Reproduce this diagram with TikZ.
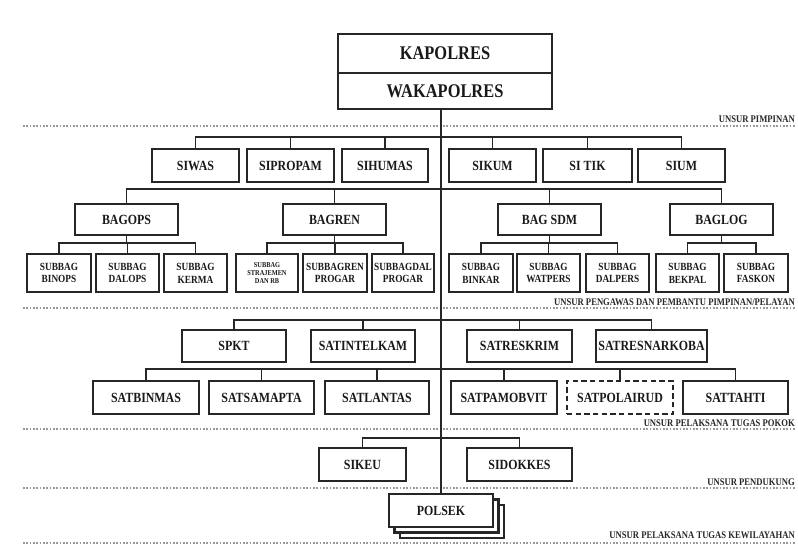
\documentclass[tikz,border=0pt]{standalone}
\usepackage{fontspec}
\newfontfamily\orgfont{Liberation Serif}[FakeStretch=0.85]
\newcommand\obox[7][]{\node[box,#1,minimum width={(#4-#3)*0.75pt},minimum height={(#6-#5)*0.75pt}] (#2) at ({(#3+#4)/2},{(#5+#6)/2}) {#7};}
\tikzset{
  box/.style={draw=black!85, line width=1.7pt, fill=white, inner sep=0pt, align=center,
    text=black!90, font=\orgfont\bfseries\fontsize{10.5}{12}\selectfont},
  bigtxt/.style={font=\orgfont\bfseries\fontsize{14.5}{16}\selectfont},
  subtxt/.style={font=\orgfont\bfseries\fontsize{8.2}{9.6}\selectfont},
  tinytxt/.style={font=\orgfont\bfseries\fontsize{5.6}{6.2}\selectfont},
  dashbox/.style={dash pattern=on 4pt off 2.5pt},
  conn/.style={draw=black!85, line width=1.3pt},
  dotline/.style={draw=black!40, line width=1.5pt, dash pattern=on 1.2pt off 1.3pt},
  lab/.style={anchor=east, inner sep=0pt, text=black!85, font=\orgfont\bfseries\fontsize{7.6}{8}\selectfont}
}
\begin{document}
\begin{tikzpicture}[x=0.75pt,y=-0.75pt]
\useasboundingbox (0,0) rectangle (798,547);
% dotted separators
\draw[dotline] (23,126) -- (795,126);
\draw[dotline] (23,308) -- (795,308);
\draw[dotline] (23,429) -- (795,429);
\draw[dotline] (23,488) -- (795,488);
\draw[dotline] (23,543) -- (795,543);
% section labels
\node[lab] (l1) at (795,119) {UNSUR PIMPINAN};
\node[lab] (l2) at (795,302) {UNSUR PENGAWAS DAN PEMBANTU PIMPINAN/PELAYAN};
\node[lab] (l3) at (795,423) {UNSUR PELAKSANA TUGAS POKOK};
\node[lab] (l4) at (795,482) {UNSUR PENDUKUNG};
\node[lab] (l5) at (795,535) {UNSUR PELAKSANA TUGAS KEWILAYAHAN};
% top
\obox[bigtxt]{kap}{338}{552}{34}{73}{KAPOLRES}
\obox[bigtxt]{wak}{338}{552}{73}{109}{WAKAPOLRES}
% SI row
\obox{siwas}{152}{239}{149}{182}{SIWAS}
\obox{sipropam}{247}{334}{149}{182}{SIPROPAM}
\obox{sihumas}{342}{428}{149}{182}{SIHUMAS}
\obox{sikum}{449}{536}{149}{182}{SIKUM}
\obox{sitik}{543}{632}{149}{182}{SI TIK}
\obox{sium}{638}{725}{149}{182}{SIUM}
% BAG row
\obox{bagops}{75}{178}{204}{235}{BAGOPS}
\obox{bagren}{283}{386}{204}{235}{BAGREN}
\obox{bagsdm}{498}{601}{204}{235}{BAG SDM}
\obox{baglog}{670}{773}{204}{235}{BAGLOG}
% SUBBAG row
\obox[subtxt]{binops}{27}{91}{254}{292}{SUBBAG\\BINOPS}
\obox[subtxt]{dalops}{96}{159}{254}{292}{SUBBAG\\DALOPS}
\obox[subtxt]{kerma}{164}{227}{254}{292}{SUBBAG\\KERMA}
\obox[tinytxt]{straj}{236}{298}{254}{292}{SUBBAG\\STRAJEMEN\\DAN RB}
\obox[subtxt]{renprog}{303}{367}{254}{292}{SUBBAGREN\\PROGAR}
\obox[subtxt]{dalprog}{372}{434}{254}{292}{SUBBAGDAL\\PROGAR}
\obox[subtxt]{binkar}{449}{513}{254}{292}{SUBBAG\\BINKAR}
\obox[subtxt]{watpers}{517}{580}{254}{292}{SUBBAG\\WATPERS}
\obox[subtxt]{dalpers}{586}{649}{254}{292}{SUBBAG\\DALPERS}
\obox[subtxt]{bekpal}{656}{719}{254}{292}{SUBBAG\\BEKPAL}
\obox[subtxt]{faskon}{724}{788}{254}{292}{SUBBAG\\FASKON}
% SAT row 1
\obox{spkt}{182}{286}{330}{362}{SPKT}
\obox{satintelkam}{311}{415}{330}{362}{SATINTELKAM}
\obox{satreskrim}{467}{572}{330}{362}{SATRESKRIM}
\obox{satresnarkoba}{596}{707}{330}{362}{SATRESNARKOBA}
% SAT row 2
\obox{satbinmas}{93}{199}{381}{414}{SATBINMAS}
\obox{satsamapta}{209}{314}{381}{414}{SATSAMAPTA}
\obox{satlantas}{325}{429}{381}{414}{SATLANTAS}
\obox{satpamobvit}{451}{557}{381}{414}{SATPAMOBVIT}
\obox[dashbox]{satpolairud}{567}{673}{381}{414}{SATPOLAIRUD}
\obox{sattahti}{683}{788}{381}{414}{SATTAHTI}
% support
\obox{sikeu}{319}{406}{448}{481}{SIKEU}
\obox{sidokkes}{467}{572}{448}{481}{SIDOKKES}
% polsek with stacked copies
\draw[draw=black!85, line width=1.7pt, fill=white] (400,505) rectangle (504,538);
\draw[draw=black!85, line width=1.7pt, fill=white] (394.5,499.5) rectangle (498.5,532.5);
\obox{polsek}{389}{493}{494}{527}{POLSEK}
% bus coordinates
\coordinate (busA) at (0,137);
\coordinate (busB) at (0,189);
\coordinate (busC) at (0,243);
\coordinate (busD) at (0,320);
\coordinate (busE) at (0,369);
\coordinate (busF) at (0,438);
% spine
\draw[conn] (wak.south -| polsek.north) -- (polsek.north);
% SI row
\draw[conn] (siwas.north) -- (siwas.north |- busA) -- (sium.north |- busA) -- (sium.north);
\foreach \n in {sipropam,sihumas,sikum,sitik} \draw[conn] (\n.north) -- (\n.north |- busA);
% BAG row
\draw[conn] (bagops.north) -- (bagops.north |- busB) -- (baglog.north |- busB) -- (baglog.north);
\foreach \n in {bagren,bagsdm} \draw[conn] (\n.north) -- (\n.north |- busB);
% sub groups
\draw[conn] (binops.north) -- (binops.north |- busC) -- (kerma.north |- busC) -- (kerma.north);
\draw[conn] (bagops.south) -- (bagops.south |- busC);
\draw[conn] (dalops.north) -- (dalops.north |- busC);
\draw[conn] (straj.north) -- (straj.north |- busC) -- (dalprog.north |- busC) -- (dalprog.north);
\draw[conn] (bagren.south) -- (bagren.south |- busC);
\draw[conn] (renprog.north) -- (renprog.north |- busC);
\draw[conn] (binkar.north) -- (binkar.north |- busC) -- (dalpers.north |- busC) -- (dalpers.north);
\draw[conn] (bagsdm.south) -- (bagsdm.south |- busC);
\draw[conn] (watpers.north) -- (watpers.north |- busC);
\draw[conn] (bekpal.north) -- (bekpal.north |- busC) -- (faskon.north |- busC) -- (faskon.north);
\draw[conn] (baglog.south) -- (baglog.south |- busC);
% SAT row 1
\draw[conn] (spkt.north) -- (spkt.north |- busD) -- (satresnarkoba.north |- busD) -- (satresnarkoba.north);
\foreach \n in {satintelkam,satreskrim} \draw[conn] (\n.north) -- (\n.north |- busD);
% SAT row 2
\draw[conn] (satbinmas.north) -- (satbinmas.north |- busE) -- (sattahti.north |- busE) -- (sattahti.north);
\foreach \n in {satsamapta,satlantas,satpamobvit,satpolairud} \draw[conn] (\n.north) -- (\n.north |- busE);
% support
\draw[conn] (sikeu.north) -- (sikeu.north |- busF) -- (sidokkes.north |- busF) -- (sidokkes.north);
\end{tikzpicture}
\end{document}
